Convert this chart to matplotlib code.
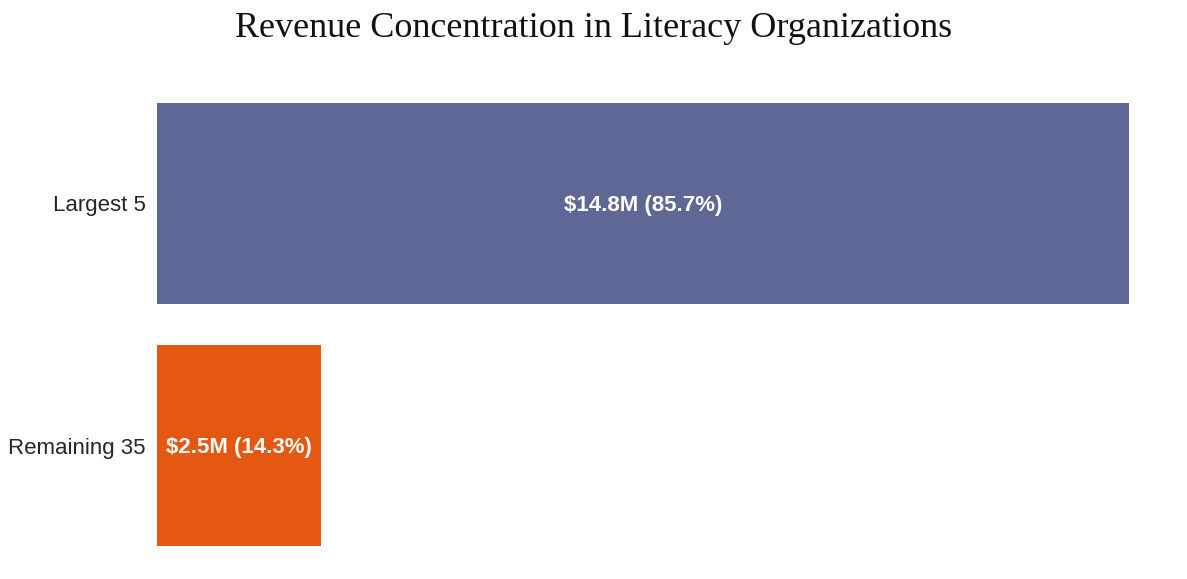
import matplotlib.pyplot as plt

# 資料
categories = ['Largest 5', 'Remaining 35']
revenue_m = [14.8, 2.5]
share_pct = [85.7, 14.3]
bar_colors = ['#5F6894', '#E55812']

fig = plt.figure(figsize=(11.87, 5.79), dpi=100)
ax = fig.add_axes([0.1323, 0.0570, 0.8188, 0.7651])

pos = list(range(len(categories)))
bars = ax.barh(pos, revenue_m, height=0.83, color=bar_colors)

# 柱內文字
for b, v, p in zip(bars, revenue_m, share_pct):
    ax.text(b.get_width() / 2, b.get_y() + b.get_height() / 2 + 0.01, f'${v}M ({p}%)',
            ha='center', va='center', color='white', fontsize=16, fontweight='bold',
            family='Liberation Sans')

ax.set_yticks(pos)
ax.set_yticklabels(categories, fontsize=16, family='Liberation Sans', color='#262626')
ax.set_xticks([])
ax.tick_params(axis='y', length=0, pad=8)
ax.set_xlim(0, max(revenue_m))
ax.set_ylim(-0.415, 1.415)
ax.invert_yaxis()
for s in ax.spines.values():
    s.set_visible(False)

fig.text(0.5, 1 - 37 / 579, 'Revenue Concentration in Literacy Organizations',
         ha='center', va='baseline', fontsize=26, family='Liberation Serif', color='#111111')

fig.savefig('out.png', dpi=100)
